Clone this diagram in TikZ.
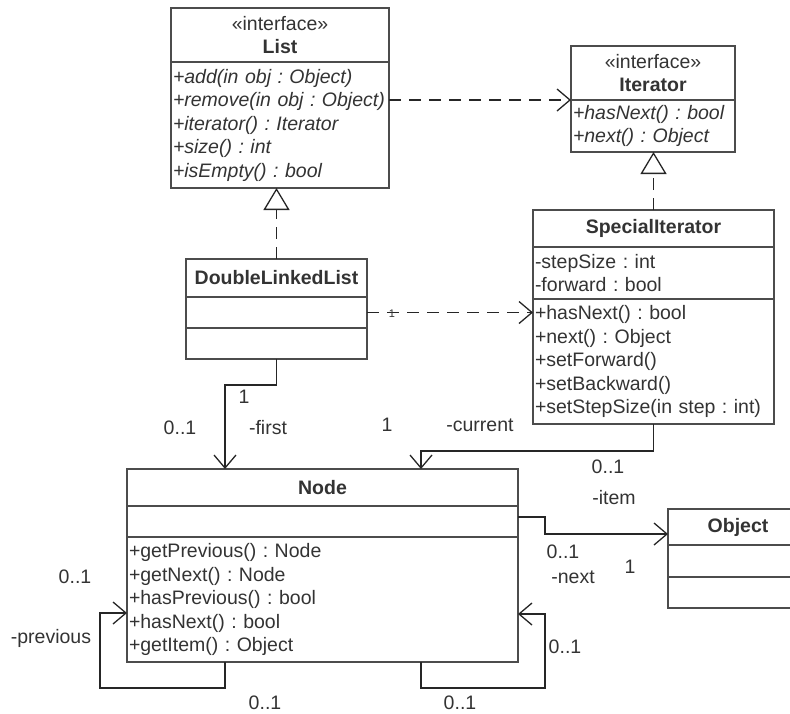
\documentclass[tikz,border=0pt]{standalone}
\usepackage{fontspec}
\setmainfont{Liberation Sans}
\usetikzlibrary{arrows.meta}
\frenchspacing
\newcommand\umlfont{\fontsize{19.5}{23.5}\selectfont}
\tikzset{
  umlbox/.style={draw=black!70, line width=1.6pt, outer sep=0pt, inner xsep=2pt, inner ysep=0pt,
    anchor=north west, align=left, text=black!80, font=\umlfont},
  umlhead/.style={umlbox, align=center},
  assoc/.style={draw=black!85, line width=1.3pt, -{Straight Barb[length=13pt,width=22pt]}},
  depend/.style={assoc, dash pattern=on 12pt off 8pt},
  realize/.style={draw=black!85, line width=1.3pt, dash pattern=on 12pt off 8pt,
    -{Triangle[length=22pt,width=26pt,fill=white]}},
  mult/.style={text=black!80, font=\umlfont, inner sep=0pt},
}
\begin{document}
\begin{tikzpicture}[x=1pt,y=-1pt]
  \useasboundingbox (0,0) rectangle (790,713);
  % Interfaces
  \node[umlhead, text width=214pt, minimum height=54pt] (list-head) at (171,8) {«interface»\\\textbf{List}};
  \node[umlbox, text width=214pt, minimum height=126pt, at={(list-head.south west)}, font=\umlfont\itshape] (list-ops)
    {+add(in obj : Object)\\+remove(in obj : Object)\\+iterator() : Iterator\\+size() : int\\+isEmpty() : bool};
  \node[umlhead, text width=160pt, minimum height=54pt] (iter-head) at (571,46) {«interface»\\\textbf{Iterator}};
  \node[umlbox, text width=160pt, minimum height=52pt, at={(iter-head.south west)}, font=\umlfont\itshape] (iter-ops)
    {+hasNext() : bool\\+next() : Object};
  % Classes
  \node[umlhead, text width=177pt, minimum height=38pt] (dll-head) at (186,259) {\textbf{DoubleLinkedList}};
  \node[umlbox, text width=177pt, minimum height=31pt, at={(dll-head.south west)}] (dll-attr) {};
  \node[umlbox, text width=177pt, minimum height=31pt, at={(dll-attr.south west)}] (dll-ops) {};
  \node[umlhead, text width=237pt, minimum height=37pt] (si-head) at (533,210) {\textbf{SpecialIterator}};
  \node[umlbox, text width=237pt, minimum height=52pt, at={(si-head.south west)}] (si-attr)
    {-stepSize : int\\-forward : bool};
  \node[umlbox, text width=237pt, minimum height=125pt, at={(si-attr.south west)}] (si-ops)
    {+hasNext() : bool\\+next() : Object\\+setForward()\\+setBackward()\\+setStepSize(in step : int)};
  \node[umlhead, text width=387pt, minimum height=37pt] (node-head) at (127,469) {\textbf{Node}};
  \node[umlbox, text width=387pt, minimum height=31pt, at={(node-head.south west)}] (node-attr) {};
  \node[umlbox, text width=387pt, minimum height=125pt, at={(node-attr.south west)}] (node-ops)
    {+getPrevious() : Node\\+getNext() : Node\\+hasPrevious() : bool\\+hasNext() : bool\\+getItem() : Object};
  \node[umlhead, text width=136pt, minimum height=36pt] (obj-head) at (668,509) {\textbf{Object}};
  \node[umlbox, text width=136pt, minimum height=32pt, at={(obj-head.south west)}] (obj-attr) {};
  \node[umlbox, text width=136pt, minimum height=31pt, at={(obj-attr.south west)}] (obj-ops) {};
  % Realisations
  \draw[realize] (dll-head.north) -- (dll-head.north |- list-ops.south);
  \draw[realize] (si-head.north) -- (si-head.north |- iter-ops.south);
  % Dependencies
  \draw[depend] (iter-ops.north west -| list-ops.east) -- (iter-ops.north west);
  \draw[depend] (dll-attr.east) -- (dll-attr.east -| si-ops.west);
  \node[mult, font=\fontsize{11}{13}\selectfont] (dep-one) at (392,314) {1};
  % Associations
  \draw[assoc] (dll-ops.south) -- ++(0,26) -| ([xshift=-97.5pt]node-head.north);
  \draw[assoc] (si-ops.south) -- ++(0,27) -| ([xshift=98.5pt]node-head.north);
  \draw[assoc] ([yshift=4.5pt]node-attr.east) -- ++(27,0) |- ([yshift=-7pt]obj-head.west);
  \draw[assoc] ([xshift=-97.5pt]node-ops.south) -- ++(0,26) -| ([xshift=-27pt,yshift=-13.5pt]node-ops.west)
    -- ([yshift=-13.5pt]node-ops.west);
  \draw[assoc] ([xshift=98.5pt]node-ops.south) -- ++(0,26) -| ([xshift=27pt,yshift=-14.5pt]node-ops.east)
    -- ([yshift=-14.5pt]node-ops.east);
  % Roles and multiplicities
  \foreach \name/\x/\y/\txt in {first-one/244/397/1, first-mult/180/428/0..1, first-role/268/428/-first,
      cur-one/387/425/1, cur-role/480/425/-current, cur-mult/608/467/0..1, item-role/614/498/-item,
      next-mult/563/552/0..1, next-role/573/577/-next, item-one/630/567/1,
      prev-mult/75/577/0..1, prev-role/51/638/-previous, prev-low/265/703/0..1,
      next-low/460/703/0..1, next-side/565/647/0..1}
    \node[mult] (\name) at (\x,\y) {\txt};
\end{tikzpicture}
\end{document}
